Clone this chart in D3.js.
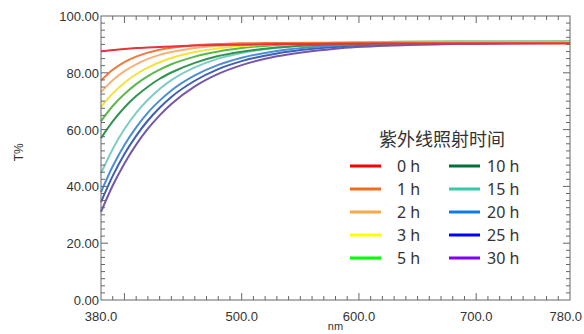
<!DOCTYPE html>
<html>
<head>
<meta charset="utf-8">
<script src="https://cdn.jsdelivr.net/npm/d3@7"></script>
<style>
body { margin: 0; background: #ffffff; }
</style>
</head>
<body>
<div id="chart"></div>
<script>
//
// Transmittance curves after UV irradiation
//

var wavelengths = [380, 390, 400, 410, 420, 430, 440, 460, 480, 500, 530, 580, 630, 680, 780];

var seriesNames = ["0 h", "1 h", "2 h", "3 h", "5 h", "10 h", "15 h", "20 h", "25 h", "30 h"];

var t0h  = [87.6, 88.0, 88.4, 88.7, 88.9, 89.1, 89.3, 89.6, 89.8, 89.9, 90.1, 90.2, 90.3, 90.3, 90.3];
var t1h  = [77.3, 81.1, 83.8, 85.7, 87.1, 88.1, 88.8, 89.7, 90.1, 90.4, 90.5, 90.6, 90.6, 90.6, 90.6];
var t2h  = [73.2, 77.4, 80.6, 83.0, 84.9, 86.3, 87.3, 88.7, 89.5, 90.0, 90.3, 90.5, 90.6, 90.6, 90.6];
var t3h  = [68.0, 72.7, 76.5, 79.5, 81.8, 83.7, 85.2, 87.3, 88.6, 89.4, 90.1, 90.6, 90.7, 90.8, 90.8];
var t5h  = [63.0, 68.3, 72.5, 76.0, 78.8, 81.1, 83.0, 85.7, 87.5, 88.7, 89.8, 90.6, 90.9, 91.0, 91.0];
var t10h = [57.0, 62.9, 67.8, 71.8, 75.1, 77.9, 80.1, 83.5, 85.9, 87.4, 88.9, 90.1, 90.5, 90.7, 90.8];
var t15h = [44.6, 53.2, 60.2, 65.9, 70.5, 74.3, 77.4, 81.9, 85.0, 87.0, 88.8, 90.2, 90.7, 90.9, 91.0];
var t20h = [38.0, 47.1, 54.6, 60.8, 66.0, 70.2, 73.8, 79.1, 82.8, 85.3, 87.7, 89.6, 90.3, 90.6, 90.8];
var t25h = [34.5, 43.7, 51.4, 57.8, 63.2, 67.7, 71.5, 77.2, 81.3, 84.1, 86.8, 89.1, 90.1, 90.4, 90.7];
var t30h = [31.0, 40.3, 48.1, 54.7, 60.3, 65.0, 69.0, 75.2, 79.6, 82.7, 85.8, 88.5, 89.6, 90.1, 90.5];

var seriesValues = [t0h, t1h, t2h, t3h, t5h, t10h, t15h, t20h, t25h, t30h];

var xTickLabels = [380, 500, 600, 700, 780];
var yTickLabels = [0, 20, 40, 60, 80, 100];

var legendTitle = "紫外线照射时间";

// plot colours (as drawn) and legend swatch colours
var curveColors  = ["#e8333a", "#f0783c", "#f7b27a", "#f2e43a", "#5cb84c", "#2f9550", "#7ecdc4", "#4a8fd6", "#3e5fb4", "#7656ac"];
var legendColors = ["#ff0000", "#f26a1b", "#f5a94a", "#ffff00", "#00ff00", "#006f3a", "#36c9a7", "#0a7be8", "#0000ff", "#7f00ff"];

//
// Size and margins
//
var W = 584, H = 334;
var margin = {top: 16, right: 14, bottom: 34, left: 101};
var width = W - margin.left - margin.right;
var height = H - margin.top - margin.bottom;

var x = d3.scaleLinear().domain([380, 780]).range([0, width]);
var y = d3.scaleLinear().domain([0, 100]).range([height, 0]);

var svg = d3.select("#chart").append("svg")
	.attr("width", W)
	.attr("height", H)
	.append("g")
	.attr("transform", "translate(" + margin.left + "," + margin.top + ")");

var axisColor = "#666666";
var textColor = "#333333";

//
// Curves
//
var line = d3.line()
	.x(function(d) { return x(d[0]); })
	.y(function(d) { return y(d[1]); })
	.curve(d3.curveMonotoneX);

for (var i = seriesValues.length - 1; i >= 0; i--) {
	var pts = wavelengths.map(function(w, j) { return [w, seriesValues[i][j]]; });
	svg.append("path")
		.attr("fill", "none")
		.attr("stroke", curveColors[i])
		.attr("stroke-width", 2)
		.attr("d", line(pts));
}

//
// Frame and inward ticks on all four sides
//
svg.append("rect")
	.attr("x", 0).attr("y", 0)
	.attr("width", width).attr("height", height)
	.attr("fill", "none")
	.attr("stroke", axisColor)
	.attr("stroke-width", 1);

var xMinor = d3.range(390, 780, 10);
var xMajor = [400, 500, 600, 700];
var yMinor = d3.range(2.5, 100, 2.5);
var yMajor = [20, 40, 60, 80];

var ticks = svg.append("g").attr("stroke", axisColor).attr("stroke-width", 1);

xMinor.forEach(function(v) {
	var len = xMajor.indexOf(v) >= 0 ? 7 : 4;
	ticks.append("line").attr("x1", x(v)).attr("x2", x(v)).attr("y1", height).attr("y2", height - len);
	ticks.append("line").attr("x1", x(v)).attr("x2", x(v)).attr("y1", 0).attr("y2", len);
});

yMinor.forEach(function(v) {
	var len = yMajor.indexOf(v) >= 0 ? 7 : 4;
	ticks.append("line").attr("x1", 0).attr("x2", len).attr("y1", y(v)).attr("y2", y(v));
	ticks.append("line").attr("x1", width).attr("x2", width - len).attr("y1", y(v)).attr("y2", y(v));
});

//
// Tick labels (last one kept inside the window)
//
svg.selectAll(".xlab")
	.data(xTickLabels)
	.enter().append("text")
	.attr("x", function(d, i) { return i == xTickLabels.length - 1 ? x(d) + 12 : x(d); })
	.attr("y", height + 21)
	.attr("text-anchor", function(d, i) { return i == xTickLabels.length - 1 ? "end" : "middle"; })
	.style("font-family", "Liberation Sans, Arial, sans-serif")
	.style("font-size", "13px")
	.style("fill", textColor)
	.text(function(d) { return d.toFixed(1); });

svg.selectAll(".ylab")
	.data(yTickLabels)
	.enter().append("text")
	.attr("x", -2)
	.attr("y", function(d) { return y(d) + 5; })
	.attr("text-anchor", "end")
	.style("font-family", "Liberation Sans, Arial, sans-serif")
	.style("font-size", "13px")
	.style("fill", textColor)
	.text(function(d) { return d.toFixed(2); });

//
// Axis titles
//
svg.append("text")
	.attr("transform", "translate(" + (-78) + "," + (y(52)) + ") rotate(-90)")
	.attr("text-anchor", "middle")
	.style("font-family", "Liberation Sans, Arial, sans-serif")
	.style("font-size", "12px")
	.style("fill", textColor)
	.text("T%");

svg.append("text")
	.attr("x", x(580))
	.attr("y", height + 30)
	.attr("text-anchor", "middle")
	.style("font-family", "Liberation Sans, Arial, sans-serif")
	.style("font-size", "11px")
	.style("fill", textColor)
	.text("nm");

//
// Legend
//
var lg = svg.append("g").attr("transform", "translate(" + (350 - margin.left) + "," + (166 - margin.top) + ")");

lg.append("text")
	.attr("x", 92)
	.attr("y", -20)
	.attr("text-anchor", "middle")
	.style("font-family", "Noto Sans CJK SC, sans-serif")
	.style("font-size", "18px")
	.style("fill", textColor)
	.text(legendTitle);

seriesNames.forEach(function(name, i) {
	var col = Math.floor(i / 5), row = i % 5;
	var gx = col * 99, gy = row * 23;
	lg.append("line")
		.attr("x1", gx).attr("x2", gx + 31)
		.attr("y1", gy).attr("y2", gy)
		.attr("stroke", legendColors[i])
		.attr("stroke-width", 3);
	lg.append("text")
		.attr("x", col == 0 ? 47 : 137)
		.attr("y", gy + 6)
		.style("font-family", "Noto Sans, sans-serif")
		.style("font-size", "16px")
		.style("fill", textColor)
		.text(name);
});
</script>
</body>
</html>
